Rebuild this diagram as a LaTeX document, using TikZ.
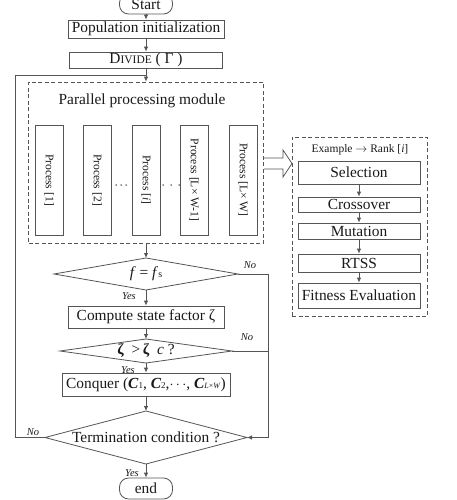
\documentclass[tikz,border=0pt]{standalone}
\usepackage{fontspec}
\setmainfont{Liberation Serif}
\usetikzlibrary{arrows.meta,calc}
\definecolor{lc}{RGB}{85,85,85}
\definecolor{tc}{RGB}{25,25,25}
\begin{document}
\begin{tikzpicture}[x=1pt,y=1pt,
  every node/.style={text=tc, inner sep=0pt},
  box/.style={draw=lc, line width=0.8pt, rectangle, font=\fontsize{15.4}{18}\selectfont},
  pill/.style={box, rounded corners=9pt},
  proc/.style={draw=lc, line width=0.8pt, minimum width=28, minimum height=110, font=\fontsize{11.6}{14}\selectfont},
  dbox/.style={draw=lc, line width=0.7pt, dash pattern=on 4pt off 2.5pt, rectangle},
  dtext/.style={font=\fontsize{15.4}{18}\selectfont},
  lab/.style={font=\fontsize{10.5}{12}\selectfont\itshape},
  arr/.style={draw=lc, line width=0.8pt, -{Latex[length=5pt,width=4.5pt]}},
  ln/.style={draw=lc, line width=0.8pt}]
\useasboundingbox (0,0) rectangle (456,-500);
\clip (0,0) rectangle (456,-500);

% main column
\node[pill, minimum width=53, minimum height=20] (start) at (146,-4) {Start};
\node[box, minimum width=156, minimum height=18] (pop) at (146,-29) {Population initialization};
\node[box, minimum width=153, minimum height=16] (div) at (146,-60) {D{\fontsize{11.5}{14}\selectfont IVIDE} ( Γ )};

% parallel module
\node[dbox, minimum width=235, minimum height=161] (module) at (146,-162.5) {};
\node[font=\fontsize{15.4}{18}\selectfont] (mtitle) at (142,-101) {Parallel processing module};
\node[proc] (p1) at (49,-180) {\rotatebox{-90}{Process [1]}};
\node[proc] (p2) at (97,-180) {\rotatebox{-90}{Process [2]}};
\node[proc] (p3) at (146,-180) {\rotatebox{-90}{Process [\textit{i}]}};
\node[proc] (p4) at (194,-180) {\rotatebox{-90}{Process [L× W-1]}};
\node[proc] (p5) at (243,-180) {\rotatebox{-90}{Process [L× W]}};
\foreach \x in {116,121,126,163,171,179} \fill[tc] (\x,-185) circle (0.75);

% hollow arrow
\draw[draw=lc, line width=0.8pt, fill=white] (264,-158) -- (283,-158) -- (283,-150) -- (292,-163.5) -- (283,-177) -- (283,-169) -- (264,-169);

% right box
\node[dbox, minimum width=135, minimum height=179] (rbox) at (359.5,-226.5) {};
\node[font=\fontsize{11.5}{14}\selectfont] (ex) at (360,-150) {Example $\rightarrow$ Rank [\textit{i}]};
\node[box, minimum width=122, minimum height=23] (sel) at (359,-172.5) {Selection};
\node[box, minimum width=122, minimum height=15] (cro) at (359,-204.5) {Crossover};
\node[box, minimum width=122, minimum height=16] (mut) at (359,-231) {Mutation};
\node[box, minimum width=122, minimum height=18] (rtss) at (359,-263) {RTSS};
\node[box, minimum width=122, minimum height=25] (fit) at (359,-295.5) {Fitness Evaluation};
\draw[arr] (sel) -- (cro);
\draw[arr] (cro) -- (mut);
\draw[arr] (mut) -- (rtss);
\draw[arr] (rtss) -- (fit);

% decision 1
\coordinate (d1n) at (146,-258);
\coordinate (d1e) at (238,-274);
\coordinate (d1s) at (146,-290);
\coordinate (d1w) at (54,-274);
\draw[ln] (d1n) -- (d1e) -- (d1s) -- (d1w) -- cycle;
\node[dtext] (d1) at (146,-274) {\textit{f} = \textit{f}{\fontsize{10}{12}\selectfont s}};

\node[box, minimum width=156, minimum height=22] (comp) at (146,-317) {Compute state factor ζ};

% decision 2
\coordinate (d2n) at (146,-339);
\coordinate (d2e) at (232,-351);
\coordinate (d2s) at (146,-363);
\coordinate (d2w) at (60,-351);
\draw[ln] (d2n) -- (d2e) -- (d2s) -- (d2w) -- cycle;
\node[dtext] (d2) at (146,-351) {\textbf{ζ}\enspace>\,\textbf{ζ}\enspace\textit{c} ?};

\node[box, minimum width=168, minimum height=23] (conq) at (146,-384.5) {Conquer (\textbf{\textit{C}}{\fontsize{9}{10}\selectfont 1}, \textbf{\textit{C}}{\fontsize{9}{10}\selectfont 2},$\cdots$, \textbf{\textit{C}}{\fontsize{8}{10}\selectfont\textit{L}×\textit{W}})};

% decision 3
\coordinate (d3n) at (146,-411);
\coordinate (d3e) at (247,-437.5);
\coordinate (d3s) at (146,-464);
\coordinate (d3w) at (45,-437.5);
\draw[ln] (d3n) -- (d3e) -- (d3s) -- (d3w) -- cycle;
\node[dtext] (d3) at (146,-437.5) {Termination condition ?};

\node[pill, minimum width=53, minimum height=21] (end) at (146,-488.5) {end};

% labels
\node[lab] (no1) at (250,-265) {No};
\node[lab] (yes1) at (129,-296) {Yes};
\node[lab] (no2) at (247,-337) {No};
\node[lab] (yes2) at (128,-370) {Yes};
\node[lab] (no3) at (33,-432) {No};
\node[lab] (yes3) at (132,-473) {Yes};

% connectors
\coordinate (rt) at (268,0);
\coordinate (lf) at (15,-75);
\coordinate (j) at (146,-75);
\draw[arr] (start) -- (pop);
\draw[arr] (pop) -- (div);
\draw[arr] (div) -- (module);
\draw[arr] (module.south) -- (d1n);
\draw[arr] (d1s) -- (comp);
\draw[arr] (comp) -- (d2n);
\draw[arr] (d2s) -- (conq);
\draw[arr] (conq) -- (d3n);
\draw[arr] (d3s) -- (end);
\draw[arr] (d1e) -- (d1e -| rt) |- (d3e);
\draw[ln] (d2e) -- (d2e -| rt);
\draw[ln] (d3w) -| (lf) -- (j);
\end{tikzpicture}
\end{document}
